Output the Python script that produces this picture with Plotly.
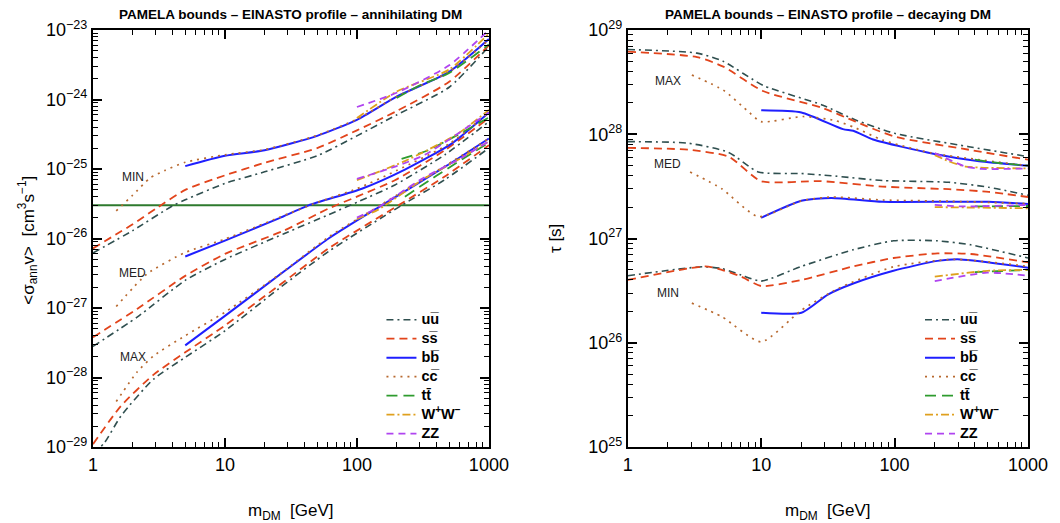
import math
import plotly.graph_objects as go

# ---------------- channels ----------------
channels = ["uu", "ss", "bb", "cc", "tt", "WW", "ZZ"]
channel_labels = ["uu\u0305", "ss\u0305", "bb\u0305", "cc\u0305",
                  "tt\u0304", "W<sup>+</sup>W<sup>\u2212</sup>", "ZZ"]

# ---------------- annihilating DM: <sigma v> [cm^3/s] ----------------
# MIN
ann_min_uu_m = [1, 2, 4, 5, 10, 20, 50, 100, 200, 500, 1000]
ann_min_uu = [6.2e-27, 1.3e-26, 2.95e-26, 3.6e-26, 6.2e-26, 9.1e-26, 1.55e-25, 3.0e-25, 6.0e-25, 1.5e-24, 5.8e-24]
ann_min_ss_m = [1, 1.5, 2, 3, 5, 10, 20, 50, 100, 200, 500, 1000]
ann_min_ss = [7.2e-27, 1.15e-26, 1.6e-26, 2.7e-26, 5.0e-26, 8.1e-26, 1.23e-25, 2.0e-25, 3.6e-25, 6.8e-25, 1.8e-24, 6.0e-24]
ann_min_bb_m = [5, 10, 20, 50, 100, 200, 500, 1000]
ann_min_bb = [1.1e-25, 1.55e-25, 1.86e-25, 3.0e-25, 5.1e-25, 1.1e-24, 2.5e-24, 7.4e-24]
ann_min_cc_m = [1.5, 2, 2.7, 3.5, 5, 10, 20, 50, 100, 200, 500, 1000]
ann_min_cc = [2.5e-26, 4.2e-26, 7.4e-26, 9.5e-26, 1.25e-25, 1.6e-25, 1.9e-25, 3.05e-25, 5.2e-25, 1.1e-24, 2.5e-24, 7.2e-24]
ann_min_tt_m = [200, 300, 500, 1000]
ann_min_tt = [1.05e-24, 1.6e-24, 2.4e-24, 6.2e-24]
ann_min_WW_m = [100, 200, 500, 1000]
ann_min_WW = [5.4e-25, 1.3e-24, 2.7e-24, 8.9e-24]
ann_min_ZZ_m = [100, 200, 500, 1000]
ann_min_ZZ = [7.8e-25, 1.25e-24, 3.1e-24, 1.0e-23]
# MED
ann_med_uu_m = [1, 2.16, 5, 10, 28, 61, 103, 194, 463, 1000]
ann_med_uu = [2.8e-28, 7.4e-28, 2.5e-27, 5.0e-27, 1.17e-26, 2.2e-26, 3.4e-26, 5.9e-26, 1.6e-25, 4.8e-25]
ann_med_ss_m = [1, 2.16, 5, 10, 28, 61, 103, 194, 463, 1000]
ann_med_ss = [3.8e-28, 9.7e-28, 2.9e-27, 6.0e-27, 1.3e-26, 2.7e-26, 4.1e-26, 6.9e-26, 1.86e-25, 5.4e-25]
ann_med_bb_m = [5, 10, 25.6, 43, 109, 231, 519, 1000]
ann_med_bb = [5.5e-27, 9.3e-27, 1.95e-26, 3.0e-26, 5.2e-26, 9.8e-26, 2.3e-25, 6.5e-25]
ann_med_cc_m = [1.5, 2.57, 5, 10, 25.6, 50, 100, 200, 500, 1000]
ann_med_cc = [1.05e-27, 3.1e-27, 6.3e-27, 9.8e-27, 2.0e-26, 3.3e-26, 5.2e-26, 9.5e-26, 2.3e-25, 6.5e-25]
ann_med_tt_m = [218, 347, 580, 1000]
ann_med_tt = [1.4e-25, 1.86e-25, 3.1e-25, 5.5e-25]
ann_med_WW_m = [100, 231, 580, 1000]
ann_med_WW = [6.9e-26, 1.3e-25, 3.2e-25, 7.1e-25]
ann_med_ZZ_m = [100, 200, 327, 1000]
ann_med_ZZ = [7.2e-26, 1.1e-25, 1.6e-25, 6.5e-25]
# MAX
ann_max_uu_m = [1, 1.22, 1.63, 2.88, 5, 10, 25.6, 61, 218, 463, 1000]
ann_max_uu = [8e-30, 1.15e-29, 2.8e-29, 9.5e-29, 1.95e-28, 4.7e-28, 1.9e-27, 6.5e-27, 3.0e-26, 7.0e-26, 2.0e-25]
ann_max_ss_m = [1, 1.63, 2.88, 5, 10, 25.6, 61, 206, 463, 1000]
ann_max_ss = [1.1e-29, 3.9e-29, 1.1e-28, 2.3e-28, 5.6e-28, 2.1e-27, 7.2e-27, 3.0e-26, 7.8e-26, 2.2e-25]
ann_max_bb_m = [5, 10, 28.3, 61, 154, 463, 1000]
ann_max_bb = [2.9e-28, 7.7e-28, 3.4e-27, 1.0e-26, 3.0e-26, 1.07e-25, 2.75e-25]
ann_max_cc_m = [1.5, 2.16, 2.88, 5, 10, 25.6, 61, 154, 463, 1000]
ann_max_cc = [4.5e-29, 1.2e-28, 2.05e-28, 4.0e-28, 8.7e-28, 3.0e-27, 1.05e-26, 3.1e-26, 1.1e-25, 2.75e-25]
ann_max_tt_m = [231, 400, 1000]
ann_max_tt = [4.0e-26, 8.0e-26, 2.4e-25]
ann_max_WW_m = [100, 145, 309, 580, 1000]
ann_max_WW = [1.9e-26, 2.6e-26, 6.9e-26, 1.35e-25, 2.5e-25]
ann_max_ZZ_m = [100, 145, 309, 580, 1000]
ann_max_ZZ = [2.0e-26, 2.8e-26, 7.2e-26, 1.35e-25, 2.5e-25]
# thermal cross section reference line
thermal_m = [1, 1000]
thermal_sv = [3e-26, 3e-26]

# ---------------- decaying DM: tau [s] ----------------
# MAX
dec_max_uu_m = [1, 3.3, 5.2, 10.3, 29, 51, 100, 360, 1000]
dec_max_uu = [6.5e28, 6.0e28, 5.0e28, 2.95e28, 1.9e28, 1.37e28, 1.02e28, 7.6e27, 6.1e27]
dec_max_ss_m = [1, 3.3, 5.2, 10.3, 29, 51, 100, 360, 1000]
dec_max_ss = [6.2e28, 5.5e28, 4.45e28, 2.6e28, 1.78e28, 1.32e28, 9.5e27, 7.1e27, 5.7e27]
dec_max_bb_m = [10, 20, 41, 49, 69, 195, 430, 1000]
dec_max_bb = [1.7e28, 1.62e28, 1.12e28, 1.08e28, 8.9e27, 6.5e27, 5.5e27, 5.0e27]
dec_max_cc_m = [3.02, 5.2, 7.8, 10, 20.6, 36, 51, 81, 190, 1000]
dec_max_cc = [3.7e28, 2.65e28, 1.7e28, 1.32e28, 1.48e28, 1.35e28, 1.15e28, 8.8e27, 6.6e27, 5.0e27]
dec_max_tt_m = [400, 600, 1000]
dec_max_tt = [5.7e27, 5.3e27, 5.0e27]
dec_max_WW_m = [200, 255, 340, 1000]
dec_max_WW = [6.3e27, 5.5e27, 4.9e27, 4.7e27]
dec_max_ZZ_m = [200, 340, 450, 1000]
dec_max_ZZ = [6.6e27, 4.9e27, 4.65e27, 4.7e27]
# MED
dec_med_uu_m = [1, 2.85, 5.7, 9.5, 20, 33.5, 81, 255, 508, 1000]
dec_med_uu = [8.5e27, 8.2e27, 6.7e27, 4.35e27, 4.2e27, 4.0e27, 3.6e27, 3.46e27, 3.1e27, 2.6e27]
dec_med_ss_m = [1, 2.85, 5.7, 10, 28, 81, 255, 508, 1000]
dec_med_ss = [7.4e27, 7.1e27, 6.1e27, 3.55e27, 3.55e27, 3.15e27, 2.97e27, 2.8e27, 2.5e27]
dec_med_bb_m = [10, 20, 33.5, 81, 255, 508, 1000]
dec_med_bb = [1.58e27, 2.3e27, 2.45e27, 2.25e27, 2.25e27, 2.25e27, 2.14e27]
dec_med_cc_m = [2.93, 5.06, 9.5, 20, 33.5, 81, 255, 1000]
dec_med_cc = [4.35e27, 3.0e27, 1.62e27, 2.3e27, 2.5e27, 2.34e27, 2.28e27, 2.16e27]
dec_med_tt_m = [400, 1000]
dec_med_tt = [2.03e27, 2.05e27]
dec_med_WW_m = [200, 1000]
dec_med_WW = [2.0e27, 1.95e27]
dec_med_ZZ_m = [200, 330, 1000]
dec_med_ZZ = [2.1e27, 2.03e27, 2.1e27]
# MIN
dec_min_uu_m = [1, 3.6, 5.06, 7.1, 10, 20, 49, 98, 209, 372, 1000]
dec_min_uu = [4.4e26, 5.35e26, 5.15e26, 4.45e26, 3.9e26, 5.4e26, 7.8e26, 9.5e26, 9.5e26, 8.7e26, 6.5e26]
dec_min_ss_m = [1, 3.8, 5.06, 7.1, 10, 20, 49, 98, 209, 372, 1000]
dec_min_ss = [4.0e26, 5.4e26, 5.0e26, 4.3e26, 3.5e26, 4.0e26, 5.4e26, 6.5e26, 7.2e26, 7.1e26, 5.9e26]
dec_min_bb_m = [10, 20, 31.6, 49, 98, 209, 313, 1000]
dec_min_bb = [1.94e26, 1.94e26, 2.9e26, 3.7e26, 4.9e26, 6.1e26, 6.3e26, 5.25e26]
dec_min_cc_m = [3.02, 5.06, 10, 20, 37.5, 98, 279, 1000]
dec_min_cc = [2.4e26, 1.78e26, 1.02e26, 2.05e26, 3.3e26, 5.35e26, 6.3e26, 5.4e26]
dec_min_tt_m = [400, 1000]
dec_min_tt = [4.75e26, 5.0e26]
dec_min_WW_m = [200, 494, 1000]
dec_min_WW = [4.3e26, 4.9e26, 5.0e26]
dec_min_ZZ_m = [200, 494, 1000]
dec_min_ZZ = [3.9e26, 4.7e26, 4.4e26]

# ---------------- ticks / labels ----------------
x_tickvals = [1, 10, 100, 1000]
x_ticktext = ["1", "10", "100", "1000"]
ann_exponents = [-29, -28, -27, -26, -25, -24, -23]
dec_exponents = [25, 26, 27, 28, 29]
title_left = "PAMELA bounds \u2013 EINASTO profile \u2013 annihilating DM"
title_right = "PAMELA bounds \u2013 EINASTO profile \u2013 decaying DM"

# ---------------- styles ----------------
colors = {"uu": "#2F4F4F", "ss": "#E2441B", "bb": "#1F1FFF", "cc": "#B8692F",
          "tt": "#2E9B2E", "WW": "#DFA01E", "ZZ": "#B044F0"}
dashes = {"uu": "7px,4px,2px,4px", "ss": "8px,5px", "bb": "solid", "cc": "2px,5px",
          "tt": "11px,6px", "WW": "8px,3px,2px,3px", "ZZ": "7px,5px"}
widths = {"uu": 1.6, "ss": 1.8, "bb": 2.0, "cc": 1.7, "tt": 1.8, "WW": 1.8, "ZZ": 1.8}

g = globals()
fig = go.Figure()

# thermal line first (behind)
fig.add_trace(go.Scatter(x=thermal_m, y=thermal_sv, mode="lines", showlegend=False,
                         line=dict(color="#2E7A2E", width=2), xaxis="x", yaxis="y", hoverinfo="skip"))

for panel, (pref, ax, ay, leg) in enumerate([("ann", "x", "y", "legend"), ("dec", "x2", "y2", "legend2")]):
    for ch, lab in zip(channels, channel_labels):
        first = True
        for grp in ["min", "med", "max"]:
            xm = g[f"{pref}_{grp}_{ch}_m"]
            yv = g[f"{pref}_{grp}_{ch}"]
            fig.add_trace(go.Scatter(
                x=xm, y=yv, mode="lines",
                name=f"<span style='font-size:14.5px'><b>{lab}</b></span>",
                legendgroup=f"{pref}{ch}",
                showlegend=first, legend=leg, xaxis=ax, yaxis=ay,
                line=dict(color=colors[ch], dash=dashes[ch], width=widths[ch], shape="spline", smoothing=0.6),
            ))
            first = False

font_family = "Liberation Sans, Arial, sans-serif"
axis_common = dict(
    type="log", showgrid=False, zeroline=False, showline=True, linecolor="black", linewidth=2,
    mirror="allticks", ticks="inside", ticklen=9, tickwidth=1.5, tickcolor="black",
    tickfont=dict(family=font_family, size=18, color="black"),
    minor=dict(ticks="inside", ticklen=5, tickwidth=1, tickcolor="black", showgrid=False, dtick="D1"),
)

leg_common = dict(xanchor="left", yanchor="top", bgcolor="rgba(0,0,0,0)",
                  font=dict(family=font_family, size=11, color="black"), tracegroupgap=0, itemwidth=30)

fig.update_layout(
    width=1060, height=523,
    margin=dict(l=93, r=27, t=30, b=76),
    paper_bgcolor="white", plot_bgcolor="white",
    font=dict(family=font_family, color="black"),
    xaxis=dict(axis_common, domain=[0, 0.4234], range=[0, 3], tickvals=x_tickvals, ticktext=x_ticktext, anchor="y"),
    yaxis=dict(axis_common, domain=[0, 1], range=[-29, -23],
               tickvals=[10.0 ** e for e in ann_exponents],
               ticktext=[f"10<sup>{str(e).replace('-', '\u2212')}</sup>" for e in ann_exponents], anchor="x"),
    xaxis2=dict(axis_common, domain=[0.572, 1.0], range=[0, 3], tickvals=x_tickvals, ticktext=x_ticktext, anchor="y2"),
    yaxis2=dict(axis_common, domain=[0, 1], range=[25, 29],
                tickvals=[10.0 ** e for e in dec_exponents],
                ticktext=[f"10<sup>{e}</sup>" for e in dec_exponents], anchor="x2"),
    legend=dict(leg_common, x=0.3085, y=0.34),
    legend2=dict(leg_common, x=0.8845, y=0.34),
    showlegend=True,
)

annots = [
    dict(text=f"<b>{title_left}</b>", xref="x domain", yref="paper", x=0.5, y=1.036, yanchor="middle",
         showarrow=False, font=dict(size=13.5)),
    dict(text=f"<b>{title_right}</b>", xref="x2 domain", yref="paper", x=0.5, y=1.036, yanchor="middle",
         showarrow=False, font=dict(size=13.5)),
    dict(text="m<sub>DM</sub>  [GeV]", xref="x domain", yref="paper", x=0.5, y=-0.156, yanchor="middle",
         showarrow=False, font=dict(size=17)),
    dict(text="m<sub>DM</sub>  [GeV]", xref="x2 domain", yref="paper", x=0.5, y=-0.156, yanchor="middle",
         showarrow=False, font=dict(size=17)),
    dict(text="<\u03c3<sub>ann</sub>v>  [cm<sup>3</sup>s<sup>\u22121</sup>]", xref="paper", yref="paper",
         x=-0.070, y=0.496, xanchor="center", yanchor="middle", textangle=-90, showarrow=False,
         font=dict(size=17)),
    dict(text="\u03c4 [s]", xref="paper", yref="paper", x=0.4947, y=0.50, xanchor="center", yanchor="middle",
         textangle=-90, showarrow=False, font=dict(size=17)),
]
# group labels (in data coordinates; log axes use log10 values)
for txt, xv, yv, xr, yr in [("MIN", 2.0, -25.12, "x", "y"), ("MED", 2.0, -26.50, "x", "y"), ("MAX", 2.0, -27.70, "x", "y"),
                            ("MAX", 2.0, 28.51, "x2", "y2"), ("MED", 2.0, 27.71, "x2", "y2"), ("MIN", 2.0, 26.48, "x2", "y2")]:
    annots.append(dict(text=txt, xref=xr, yref=yr, x=math.log10(xv), y=yv, showarrow=False,
                       font=dict(size=12, color="#222222")))
fig.update_layout(annotations=annots)

fig.write_html("out.html")
